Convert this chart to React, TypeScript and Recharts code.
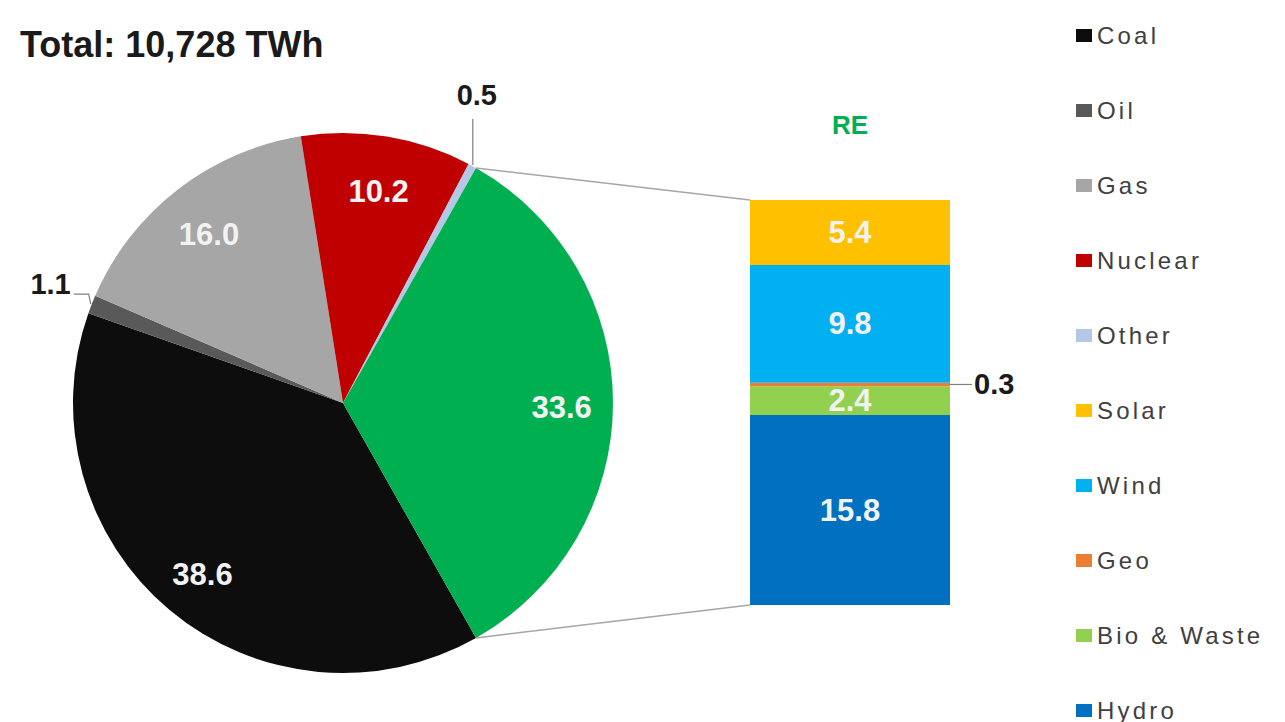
import React from "react"
import { PieChart, Pie, Cell, BarChart, Bar, XAxis, YAxis, LabelList, Legend } from "recharts"

// electricity mix, share of total generation (%)
const pieNames = ["Coal", "Oil", "Gas", "Nuclear", "Other", "RE"]
const pieValues = [38.6, 1.1, 16.0, 10.2, 0.5, 33.6]
const pieColors = ["#0d0d0d", "#595959", "#a6a6a6", "#c00000", "#b4c7e7", "#00b050"]

// breakdown of the RE slice, stacked bottom -> top
const reNames = ["Hydro", "Bio & Waste", "Geo", "Wind", "Solar"]
const reKeys = ["hydro", "bio", "geo", "wind", "solar"]
const reValues = [15.8, 2.4, 0.3, 9.8, 5.4]
const reColors = ["#0070c0", "#92d050", "#ed7d31", "#00b0f0", "#ffc000"]

const legendNames = ["Coal", "Oil", "Gas", "Nuclear", "Other", "Solar", "Wind", "Geo", "Bio & Waste", "Hydro"]

const title = "Total: 10,728 TWh"
const reTitle = "RE"

const FONT = "'Liberation Sans', Arial, sans-serif"
const RADIAN = Math.PI / 180

const pieData = pieNames.map((name, i) => ({ name, value: pieValues[i], fill: pieColors[i] }))
const reRow: Record<string, any> = { name: reTitle }
reKeys.forEach((k, i) => (reRow[k] = reValues[i]))
const barData = [reRow]
const reTotal = reValues.reduce((a, b) => a + b, 0)

const pieTotal = pieValues.reduce((a, b) => a + b, 0)
const reSpan = (pieValues[pieValues.length - 1] / pieTotal) * 360
const START = -reSpan / 2
const END = START - 360

// bar placement (bar chart box)
const BAR_BOX = { left: 700, width: 360, height: 722 }
const BAR_MARGIN = { top: 110, right: 110, bottom: 117, left: 50 }
const AXIS_H = 90
const barLeft = BAR_BOX.left + BAR_MARGIN.left
const barTop = BAR_MARGIN.top + AXIS_H
const barBottom = BAR_BOX.height - BAR_MARGIN.bottom

const polar = (cx: number, cy: number, r: number, a: number) => ({
  x: cx + r * Math.cos(-a * RADIAN),
  y: cy + r * Math.sin(-a * RADIAN),
})

const renderPieLabel = (props: any) => {
  const { cx, cy, midAngle, outerRadius, index, value, startAngle, endAngle } = props
  const name = pieNames[index]
  const txt = Number(value).toFixed(1)
  if (name === "Oil") {
    const p = polar(cx, cy, outerRadius + 1, midAngle)
    return (
      <g>
        <polyline
          points={`${p.x},${p.y} ${p.x - 2},${p.y - 10} ${p.x - 17},${p.y - 10}`}
          fill="none"
          stroke="#7f7f7f"
          strokeWidth={1.2}
        />
        <text x={p.x - 20} y={p.y - 10} textAnchor="end" fill="#1a1a1a" fontSize={29} fontWeight="bold" fontFamily={FONT}>
          {txt}
        </text>
      </g>
    )
  }
  if (name === "Other") {
    const p = polar(cx, cy, outerRadius + 1, midAngle)
    return (
      <g>
        <line x1={p.x} y1={p.y} x2={p.x} y2={p.y - 46} stroke="#7f7f7f" strokeWidth={1.2} />
        <text x={p.x + 4} y={p.y - 60} textAnchor="middle" fill="#1a1a1a" fontSize={29} fontWeight="bold" fontFamily={FONT}>
          {txt}
        </text>
      </g>
    )
  }
  const c = polar(cx, cy, outerRadius * 0.81, midAngle)
  let connectors = null
  if (name === "RE") {
    const a1 = polar(cx, cy, outerRadius, startAngle)
    const a2 = polar(cx, cy, outerRadius, endAngle)
    const top = a1.y < a2.y ? a1 : a2
    const bot = a1.y < a2.y ? a2 : a1
    connectors = (
      <g>
        <line x1={top.x} y1={top.y} x2={barLeft} y2={barTop} stroke="#a6a6a6" strokeWidth={1.5} />
        <line x1={bot.x} y1={bot.y} x2={barLeft} y2={barBottom} stroke="#a6a6a6" strokeWidth={1.5} />
      </g>
    )
  }
  return (
    <g>
      {connectors}
      <text
        x={c.x}
        y={c.y + 4}
        textAnchor="middle"
        dominantBaseline="central"
        fill="#f2f2f2"
        fontSize={31}
        fontWeight="bold"
        fontFamily={FONT}
      >
        {txt}
      </text>
    </g>
  )
}

const barLabel = (key: string) => (props: any) => {
  const { x, y, width, height, value } = props
  const txt = Number(value).toFixed(1)
  const midY = y + height / 2
  if (key === "geo") {
    return (
      <g>
        <line x1={x + width} y1={midY} x2={x + width + 22} y2={midY} stroke="#7f7f7f" strokeWidth={1.2} />
        <text
          x={x + width + 24}
          y={midY}
          textAnchor="start"
          dominantBaseline="central"
          fill="#1a1a1a"
          fontSize={29}
          fontWeight="bold"
          fontFamily={FONT}
        >
          {txt}
        </text>
      </g>
    )
  }
  return (
    <text
      x={x + width / 2}
      y={midY}
      textAnchor="middle"
      dominantBaseline="central"
      fill="#f2f2f2"
      fontSize={31}
      fontWeight="bold"
      fontFamily={FONT}
    >
      {txt}
    </text>
  )
}

const legendColor = (name: string) => {
  const i = pieNames.indexOf(name)
  if (i >= 0) return pieColors[i]
  return reColors[reNames.indexOf(name)]
}

const renderLegend = () => (
  <div style={{ fontFamily: FONT }}>
    {legendNames.map((n) => (
      <div key={n} style={{ height: 75, display: "flex", alignItems: "center" }}>
        <span style={{ display: "inline-block", width: 16, height: 13, background: legendColor(n), marginRight: 5 }} />
        <span style={{ fontSize: 24, color: "#404040", letterSpacing: 3.2, whiteSpace: "nowrap" }}>{n}</span>
      </div>
    ))}
  </div>
)

export default function App() {
  return (
    <div style={{ position: "relative", width: 1285, height: 722, overflow: "hidden", background: "#fff" }}>
      <style>{`body{margin:0}`}</style>
      <div
        style={{
          position: "absolute",
          left: 20,
          top: 27,
          fontFamily: FONT,
          fontWeight: "bold",
          fontSize: 36,
          lineHeight: "36px",
          color: "#1a1a1a",
          whiteSpace: "nowrap",
        }}
      >
        {title}
      </div>
      <div style={{ position: "absolute", left: 0, top: 0 }}>
        <PieChart width={1285} height={722} margin={{ top: 0, right: 0, bottom: 0, left: 0 }}>
          <Pie
            data={pieData}
            dataKey="value"
            nameKey="name"
            cx={343}
            cy={403}
            outerRadius={270}
            startAngle={START}
            endAngle={END}
            stroke="none"
            label={renderPieLabel}
            labelLine={false}
            isAnimationActive={false}
          >
            {pieData.map((d) => (
              <Cell key={d.name} fill={d.fill} />
            ))}
          </Pie>
          <Legend
            layout="vertical"
            align="right"
            verticalAlign="middle"
            content={renderLegend}
            wrapperStyle={{ left: 1076, top: -2, width: 215 }}
          />
        </PieChart>
      </div>
      <div style={{ position: "absolute", left: BAR_BOX.left, top: 0 }}>
        <BarChart
          width={BAR_BOX.width}
          height={BAR_BOX.height}
          data={barData}
          margin={BAR_MARGIN}
          barCategoryGap={0}
          barGap={0}
        >
          <XAxis
            dataKey="name"
            orientation="top"
            height={AXIS_H}
            axisLine={false}
            tickLine={false}
            tickSize={0}
            tickMargin={66}
            tick={{ fill: "#00b050", fontSize: 26, fontWeight: "bold", fontFamily: FONT }}
          />
          <YAxis hide domain={[0, reTotal]} />
          {reKeys.map((k, i) => (
            <Bar key={k} dataKey={k} stackId="re" fill={reColors[i]} isAnimationActive={false}>
              <LabelList dataKey={k} content={barLabel(k)} />
            </Bar>
          ))}
        </BarChart>
      </div>
    </div>
  )
}
